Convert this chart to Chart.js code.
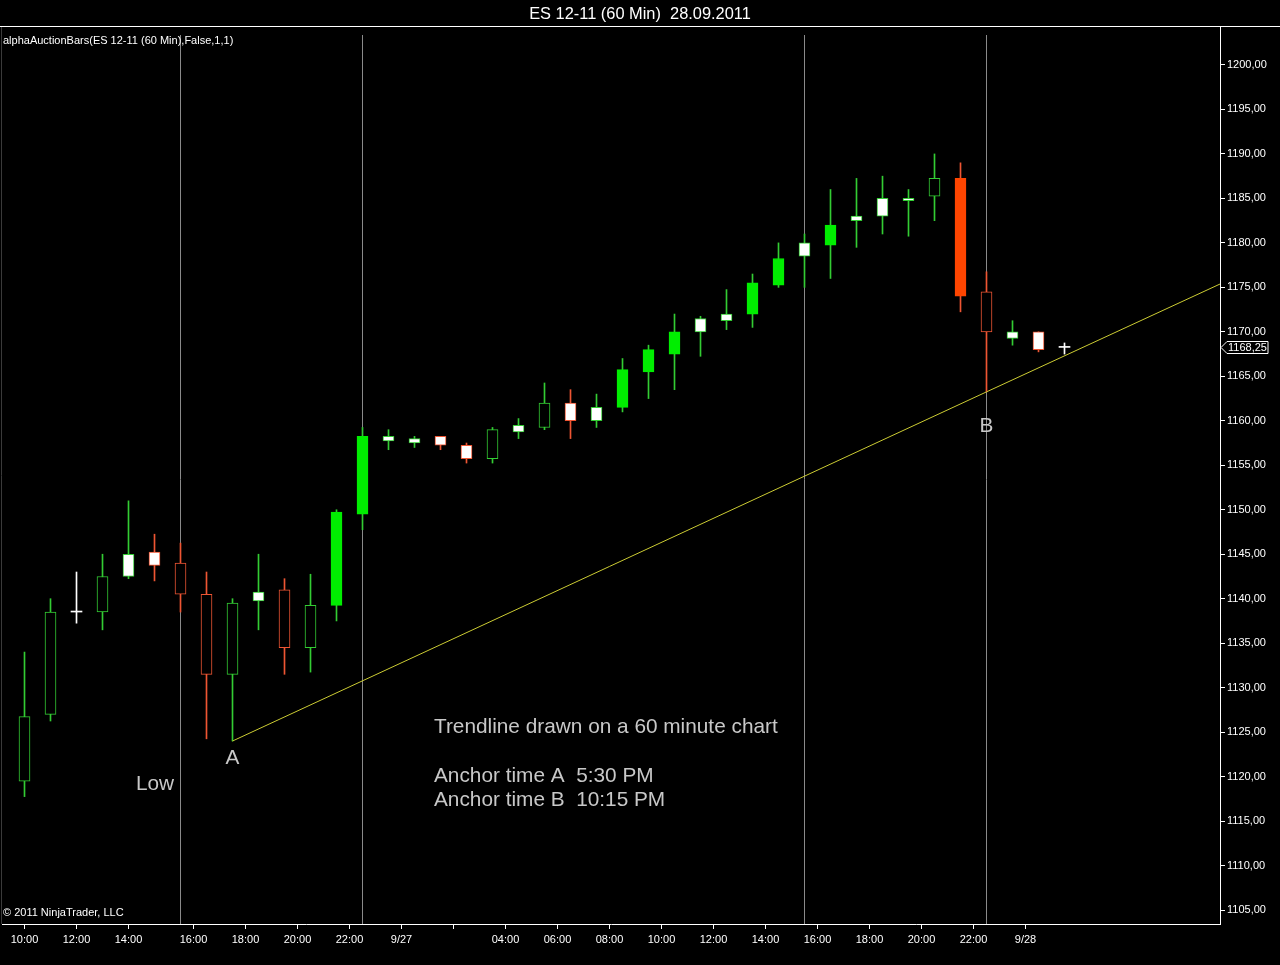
<!DOCTYPE html>
<html>
<head>
<meta charset="utf-8">
<title>ES 12-11 (60 Min) 28.09.2011</title>
<script src="https://cdn.jsdelivr.net/npm/chart.js@4.4.1/dist/chart.umd.min.js"></script>
<style>
  html, body { margin: 0; padding: 0; background: #000; }
  #wrap { width: 1280px; height: 965px; }
</style>
</head>
<body>
<div id="wrap"><canvas id="chart" width="1280" height="965"></canvas></div>
<script>
// ES 12-11, 60 min bars, 9/26 10:00 .. 9/28
const opens  = [1119.5, 1127, 1138.5, 1138.5, 1142.5, 1145.25, 1144, 1140.5, 1131.5, 1139.75,
                1141, 1134.5, 1139.25, 1149.5, 1157.75, 1157.5, 1158.25, 1157.25, 1155.75, 1158.75,
                1159.25, 1162, 1160, 1161.5, 1165.5, 1167.5, 1170, 1171.25, 1172, 1175.25,
                1178.5, 1179.75, 1182.5, 1183, 1184.75, 1185.25, 1187.25, 1174.5, 1169.25, 1170,
                1168.25];
const highs  = [1134, 1140, 1143, 1145, 1151, 1147.25, 1146.25, 1143, 1140, 1145,
                1142.25, 1142.75, 1150, 1159.25, 1159, 1158.25, 1158.25, 1157.5, 1159.25, 1160.25,
                1164.25, 1163.5, 1163, 1167, 1168.5, 1172, 1171.75, 1174.75, 1176.5, 1180,
                1181, 1186, 1187.25, 1187.5, 1186, 1190, 1189, 1176.75, 1171.25, 1170,
                1168.75];
const lows   = [1117.75, 1126.25, 1137.25, 1136.5, 1142.25, 1142, 1138.5, 1124.25, 1124, 1136.5,
                1131.5, 1131.75, 1137.5, 1147.75, 1156.75, 1157, 1156.75, 1155.25, 1155.25, 1158,
                1159, 1158, 1159.25, 1161, 1162.5, 1163.5, 1167.25, 1170.25, 1170.5, 1175,
                1175, 1176, 1179.5, 1181, 1180.75, 1182.5, 1172.25, 1163.25, 1168.5, 1167.75,
                1167.5];
const closes = [1126.75, 1138.5, 1138.5, 1142.5, 1145, 1143.75, 1140.5, 1131.5, 1139.5, 1140.75,
                1134.5, 1139.25, 1149.75, 1158.25, 1158.25, 1158, 1157.25, 1155.75, 1159, 1159.5,
                1162, 1160, 1161.5, 1165.75, 1168, 1170, 1171.5, 1172, 1175.5, 1178.25,
                1180, 1182, 1183, 1185, 1185, 1187.25, 1174, 1170, 1170, 1168,
                1168.25];
// alphaAuctionBars state per bar: n = neutral, s = strong, w = weak
const auction = ['n', 'n', 'n', 'n', 'w', 'w', 'n', 'n', 'n', 'w',
                 'n', 'n', 's', 's', 'w', 'w', 'w', 'w', 'n', 'w',
                 'n', 'w', 'w', 's', 's', 's', 'w', 'w', 's', 's',
                 'w', 's', 'w', 'w', 'w', 'n', 's', 'n', 'w', 'w',
                 'n'];

// time axis (bar index units)
const tickAt     = [0, 2, 4, 6.5, 8.5, 10.5, 12.5, 14.5, 16.5, 18.5, 20.5, 22.5,
                    24.5, 26.5, 28.5, 30.5, 32.5, 34.5, 36.5, 38.5];
const tickLabels = ['10:00', '12:00', '14:00', '16:00', '18:00', '20:00', '22:00', '9/27', '', '04:00', '06:00', '08:00',
                    '10:00', '12:00', '14:00', '16:00', '18:00', '20:00', '22:00', '9/28'];
const priceTicks = [1105, 1110, 1115, 1120, 1125, 1130, 1135, 1140, 1145, 1150,
                    1155, 1160, 1165, 1170, 1175, 1180, 1185, 1190, 1195, 1200];

// session markers and trendline anchors
const sessionBars = [6, 13, 30, 37];
const trendX = [8, 37, 46];
const trendY = [1124, 1163.25, 1175.4];

const GREEN = '#33cc33', GREEN_FILL = '#00ee00';
const RED = '#ee5533', RED_FILL = '#ff4500';
const FONT = '"Liberation Sans", Arial, sans-serif';

const isDoji = i => opens[i] === closes[i];
const isUp = i => closes[i] > opens[i];

function bodyFill(i) {
    if (isDoji(i)) return '#ffffff';
    if (auction[i] === 's') return isUp(i) ? GREEN_FILL : RED_FILL;
    if (auction[i] === 'w') return '#ffffff';
    return '#000000';
}
function bodyLine(i) {
    if (isDoji(i)) return '#ffffff';
    if (auction[i] === 's') return isUp(i) ? GREEN_FILL : RED_FILL;
    return isUp(i) ? GREEN : RED;
}
function wickColor(i) {
    if (isDoji(i)) return '#ffffff';
    return isUp(i) ? GREEN : RED;
}

Chart.defaults.font.family = FONT;
Chart.defaults.color = '#ffffff';

const chrome = {
    id: 'chrome',
    beforeDraw(chart) {
        const ctx = chart.ctx;
        ctx.save();
        ctx.fillStyle = '#000';
        ctx.fillRect(0, 0, chart.width, chart.height);
        ctx.restore();
    },
    beforeDatasetsDraw(chart) {
        const {ctx, chartArea, scales: {x}} = chart;
        ctx.save();
        ctx.strokeStyle = '#8a8a8a';
        ctx.lineWidth = 1;
        sessionBars.forEach(b => {
            const px = Math.floor(x.getPixelForValue(b)) + 0.5;
            ctx.beginPath();
            ctx.moveTo(px, chartArea.top + 8);
            ctx.lineTo(px, chartArea.bottom);
            ctx.stroke();
        });
        ctx.restore();
    },
    afterDraw(chart) {
        const {ctx, chartArea, scales: {x, y}} = chart;
        ctx.save();
        // panel frame
        ctx.strokeStyle = '#ffffff';
        ctx.lineWidth = 1;
        ctx.beginPath();
        ctx.moveTo(0, 26.5);
        ctx.lineTo(chart.width, 26.5);
        ctx.stroke();
        ctx.strokeStyle = '#3a3a3a';
        ctx.beginPath();
        ctx.moveTo(1.5, 27);
        ctx.lineTo(1.5, chartArea.bottom);
        ctx.stroke();

        // title and captions
        ctx.fillStyle = '#ffffff';
        ctx.font = '16.4px ' + FONT;
        ctx.textAlign = 'center';
        ctx.textBaseline = 'alphabetic';
        ctx.fillText('ES 12-11 (60 Min)  28.09.2011', 640, 19);
        ctx.font = '11px ' + FONT;
        ctx.textAlign = 'left';
        ctx.fillText('alphaAuctionBars(ES 12-11 (60 Min),False,1,1)', 3, 44);
        ctx.fillText('\u00a9 2011 NinjaTrader, LLC', 3, 916);

        // annotations
        ctx.fillStyle = '#c8c8c8';
        ctx.font = '20.8px ' + FONT;
        ctx.textAlign = 'center';
        ctx.fillText('Low', 155, 790);
        ctx.fillText('A', x.getPixelForValue(trendX[0]), y.getPixelForValue(trendY[0]) + 23);
        ctx.fillText('B', x.getPixelForValue(trendX[1]), y.getPixelForValue(trendY[1]) + 40);
        ctx.textAlign = 'left';
        ctx.fillText('Trendline drawn on a 60 minute chart', 434, 733);
        ctx.fillText('Anchor time A  5:30 PM', 434, 782);
        ctx.fillText('Anchor time B  10:15 PM', 434, 806);

        // last price marker
        const last = closes[closes.length - 1];
        const py = Math.round(y.getPixelForValue(last)) + 0.5;
        const left = chartArea.right;
        ctx.strokeStyle = '#ffffff';
        ctx.fillStyle = '#000000';
        ctx.beginPath();
        ctx.moveTo(left + 1, py);
        ctx.lineTo(left + 7, py - 6);
        ctx.lineTo(left + 48, py - 6);
        ctx.lineTo(left + 48, py + 6);
        ctx.lineTo(left + 7, py + 6);
        ctx.closePath();
        ctx.fill();
        ctx.stroke();
        ctx.fillStyle = '#ffffff';
        ctx.font = '11px ' + FONT;
        ctx.textBaseline = 'middle';
        ctx.fillText(last.toFixed(2).replace('.', ','), left + 8, py + 0.5);
        ctx.restore();
    }
};

new Chart(document.getElementById('chart'), {
    type: 'bar',
    data: {
        datasets: [
            {
                type: 'line',
                label: 'Trendline',
                data: trendX.map((v, i) => ({x: v, y: trendY[i]})),
                borderColor: '#cccc33',
                borderWidth: 1,
                pointRadius: 0,
                tension: 0
            },
            {
                label: 'Body',
                data: opens.map((o, i) => ({x: i, y: [o, closes[i]]})),
                grouped: false,
                barThickness: 11,
                minBarLength: 1,
                borderSkipped: false,
                borderWidth: ctx => isDoji(ctx.dataIndex) ? 0 : 1,
                backgroundColor: ctx => bodyFill(ctx.dataIndex),
                borderColor: ctx => bodyLine(ctx.dataIndex)
            },
            {
                label: 'Wick',
                data: highs.map((h, i) => ({x: i, y: [lows[i], h]})),
                grouped: false,
                barThickness: 1,
                borderWidth: 0,
                backgroundColor: ctx => wickColor(ctx.dataIndex)
            }
        ]
    },
    plugins: [chrome],
    options: {
        responsive: false,
        animation: false,
        events: [],
        layout: { padding: { left: 2, top: 27, right: 0, bottom: 0 } },
        plugins: { legend: { display: false }, tooltip: { enabled: false } },
        scales: {
            x: {
                type: 'linear',
                min: -22.5 / 26,
                max: 1195.5 / 26,
                offset: false,
                afterFit: s => { s.height = 41; },
                afterBuildTicks: s => { s.ticks = tickAt.map(v => ({value: v})); },
                grid: { drawOnChartArea: false, offset: false, tickLength: 5, color: '#ffffff' },
                border: { color: '#ffffff' },
                ticks: {
                    autoSkip: false, maxRotation: 0, padding: 4,
                    font: { size: 11 }, color: '#ffffff',
                    callback: (v, i) => tickLabels[i]
                }
            },
            y: {
                position: 'right',
                min: 1103.43,
                max: 1204.27,
                afterFit: s => { s.width = 60; },
                afterBuildTicks: s => { s.ticks = priceTicks.map(v => ({value: v})); },
                grid: { drawOnChartArea: false, tickLength: 5, color: '#ffffff' },
                border: { color: '#ffffff' },
                ticks: {
                    padding: 2, font: { size: 11 }, color: '#ffffff',
                    callback: v => v.toFixed(2).replace('.', ',')
                }
            }
        }
    }
});
</script>
</body>
</html>
